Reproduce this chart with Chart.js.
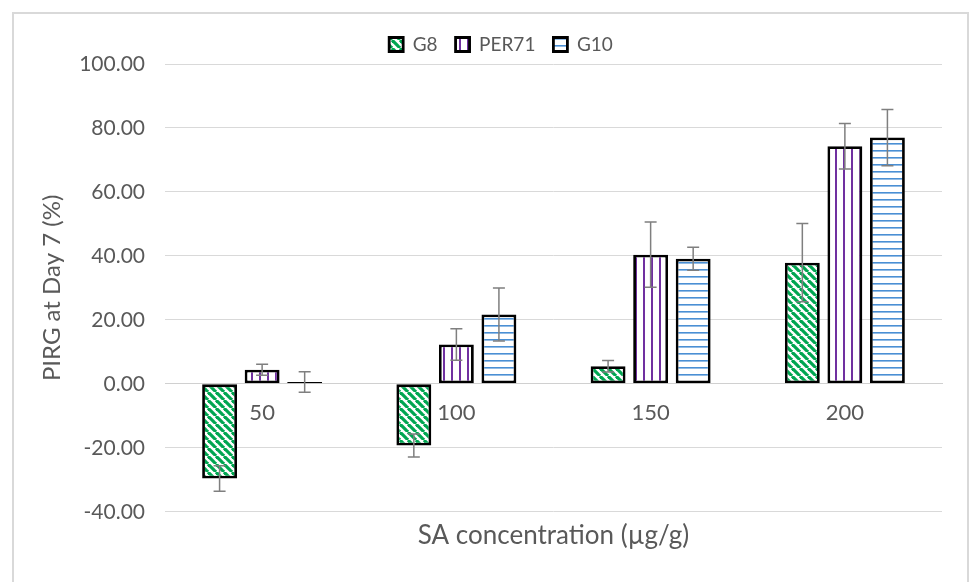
<!DOCTYPE html>
<html>
<head>
<meta charset="utf-8">
<script src="https://cdn.jsdelivr.net/npm/chart.js@4"></script>
<style>
    body { margin: 0; background: #fff; }
    #frame { position: absolute; left: 12px; top: 12px; width: 957px; height: 620px; border: 2px solid #d9d9d9; box-sizing: border-box; }
    #wrap { position: absolute; left: 0; top: 0; width: 971px; height: 582px; }
</style>
</head>
<body>
<div id="frame"></div>
<div id="wrap"><canvas id="myChart" width="971" height="582"></canvas></div>
<script>
const categories = ['50', '100', '150', '200']
const g8Values = [-29.6, -19.3, 5.5, 37.9]
const g8Errors = [4.0, 3.6, 1.8, 12.2]
const per71Values = [4.4, 12.3, 40.4, 74.3]
const per71Errors = [1.7, 4.9, 10.2, 7.1]
const g10Values = [0.6, 21.7, 39.1, 77.0]
const g10Errors = [3.2, 8.3, 3.6, 8.8]

const textColor = '#595959'
const fontFamily = 'Lato, "Open Sans", sans-serif'

const makePattern = (size, draw) => {
    const c = document.createElement('canvas')
    c.width = size
    c.height = size
    const p = c.getContext('2d')
    p.fillStyle = '#fff'
    p.fillRect(0, 0, size, size)
    draw(p, size)
    return p.createPattern(c, 'repeat')
}

// wide downward diagonal, green
const g8Pattern = makePattern(8, (p, s) => {
    p.strokeStyle = '#00a651'
    p.lineWidth = 3.2
    for (const k of [-s, 0, s]) {
        p.beginPath()
        p.moveTo(k, 0)
        p.lineTo(k + s, s)
        p.stroke()
    }
})

// vertical lines, purple
const per71Pattern = makePattern(8, (p, s) => {
    p.fillStyle = '#7030a0'
    p.fillRect(3, 0, 2, s)
})

// horizontal lines, blue
const g10Pattern = makePattern(7, (p, s) => {
    p.fillStyle = '#4a8fd4'
    p.fillRect(0, 3, s, 1.6)
})

const errorBars = {
    id: 'errorBars',
    afterDatasetsDraw(chart) {
        const ctx = chart.ctx
        const yScale = chart.scales.y
        ctx.save()
        ctx.strokeStyle = '#7f7f7f'
        ctx.lineWidth = 1.5
        chart.data.datasets.forEach((ds, i) => {
            const meta = chart.getDatasetMeta(i)
            meta.data.forEach((bar, j) => {
                const v = ds.data[j]
                const e = ds.errors[j]
                const top = yScale.getPixelForValue(v + e)
                const bottom = yScale.getPixelForValue(v - e)
                ctx.beginPath()
                ctx.moveTo(bar.x, top)
                ctx.lineTo(bar.x, bottom)
                ctx.moveTo(bar.x - 6, top)
                ctx.lineTo(bar.x + 6, top)
                ctx.moveTo(bar.x - 6, bottom)
                ctx.lineTo(bar.x + 6, bottom)
                ctx.stroke()
            })
        })
        ctx.restore()
    }
}

const barStyle = {
    borderColor: '#000',
    borderWidth: 2.8,
    borderSkipped: false,
    categoryPercentage: 0.657,
    barPercentage: 0.82
}

const ctx = document.getElementById('myChart').getContext('2d')
const myChart = new Chart(ctx, {
    type: 'bar',
    data: {
        labels: categories,
        datasets: [
            { label: 'G8', data: g8Values, errors: g8Errors, backgroundColor: g8Pattern, ...barStyle },
            { label: 'PER71', data: per71Values, errors: per71Errors, backgroundColor: per71Pattern, ...barStyle },
            { label: 'G10', data: g10Values, errors: g10Errors, backgroundColor: g10Pattern, ...barStyle }
        ]
    },
    options: {
        responsive: false,
        animation: false,
        layout: {
            padding: { left: 60, right: 29, top: 17, bottom: 31 }
        },
        plugins: {
            legend: {
                position: 'top',
                labels: {
                    boxWidth: 14,
                    boxHeight: 14,
                    padding: 18,
                    color: textColor,
                    font: { family: fontFamily, size: 19 }
                }
            },
            title: {
                display: true,
                fullSize: false,
                position: 'bottom',
                text: 'SA concentration (µg/g)',
                color: textColor,
                padding: { top: 8, bottom: 0 },
                font: { family: fontFamily, size: 26, weight: 'normal' }
            },
            tooltip: { enabled: false }
        },
        scales: {
            x: {
                position: { y: 0 },
                grid: { display: false },
                border: { display: true, color: '#d0d0d0', width: 1 },
                ticks: {
                    color: textColor,
                    padding: 8,
                    maxRotation: 0,
                    font: { family: fontFamily, size: 22 }
                }
            },
            y: {
                min: -40,
                max: 100,
                afterFit: (scale) => { scale.width = 105 },
                grid: { color: '#d9d9d9', lineWidth: 1, drawTicks: false },
                border: { display: false },
                ticks: {
                    stepSize: 20,
                    padding: 20,
                    color: textColor,
                    font: { family: fontFamily, size: 21 },
                    callback: (v) => v.toFixed(2)
                },
                title: {
                    display: true,
                    text: 'PIRG at Day 7 (%)',
                    color: textColor,
                    padding: { top: -22, bottom: 0 },
                    font: { family: fontFamily, size: 24 }
                }
            }
        }
    },
    plugins: [errorBars]
})
</script>
</body>
</html>
